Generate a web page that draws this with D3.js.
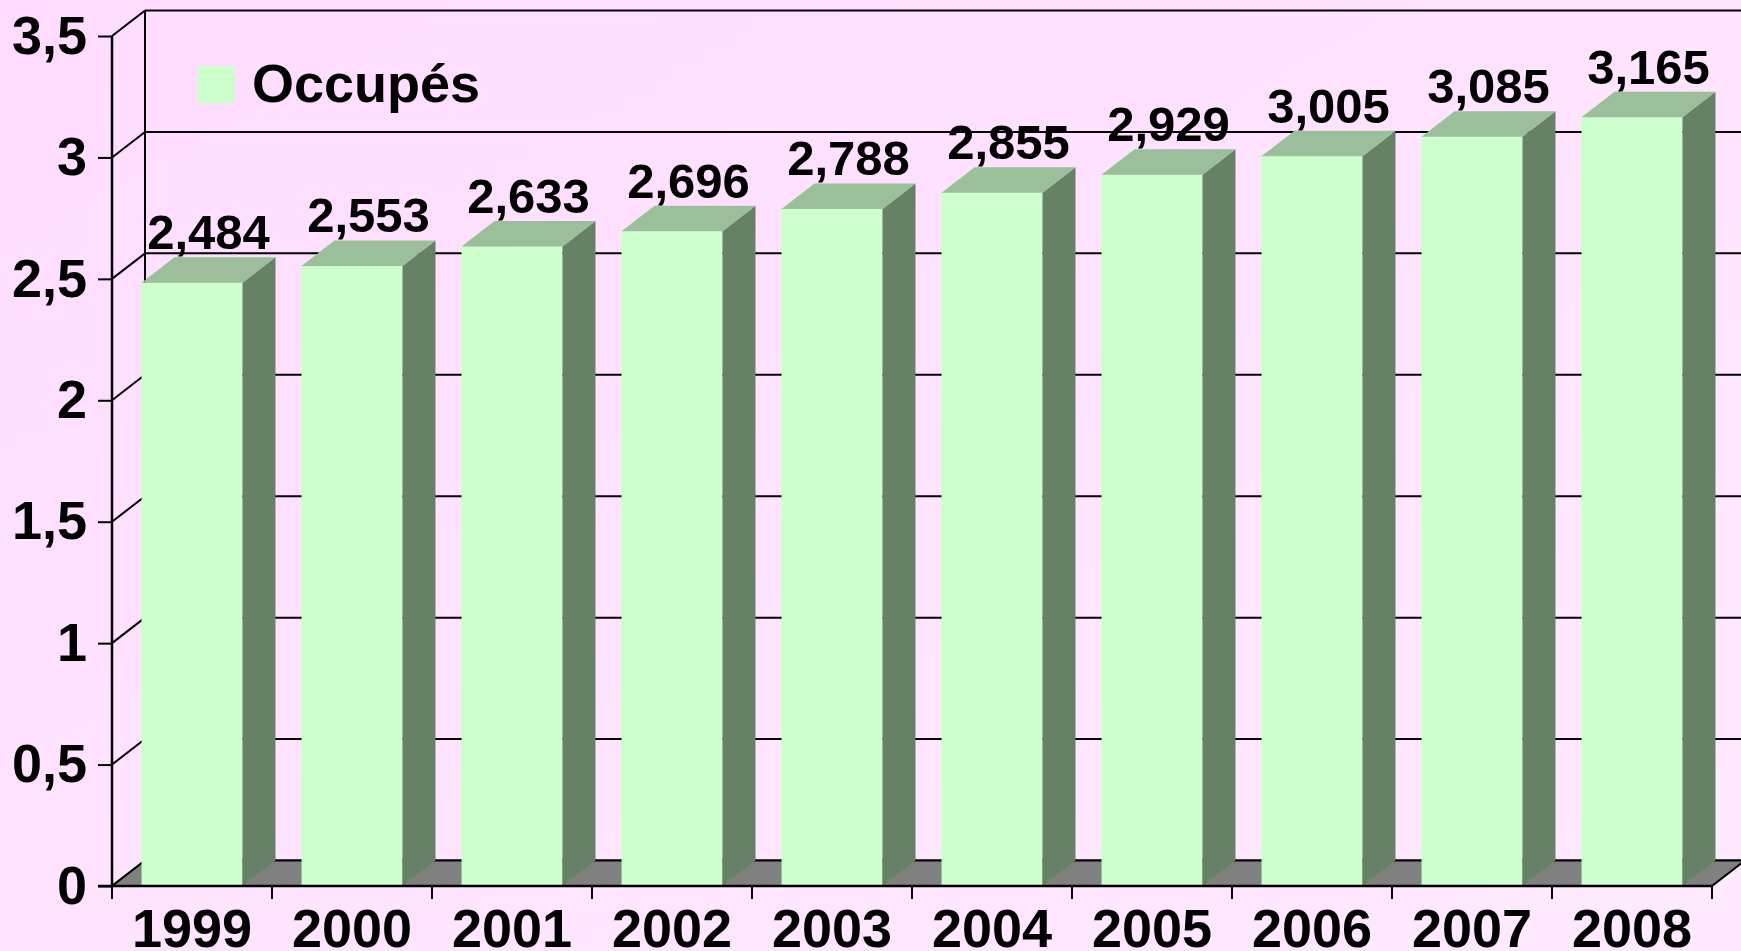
<!DOCTYPE html>
<html>
<head>
<meta charset="utf-8">
<script src="https://cdn.jsdelivr.net/npm/d3@7.9.0/dist/d3.min.js"></script>
<style>
  html, body { margin: 0; padding: 0; background: #ffe2ff; }
  svg { display: block; font-family: "Liberation Sans", Arial, sans-serif; font-weight: bold; }
</style>
</head>
<body>
<script>
// Chart data
const years = ["1999", "2000", "2001", "2002", "2003", "2004", "2005", "2006", "2007", "2008"];
const occupes = [2.484, 2.553, 2.633, 2.696, 2.788, 2.855, 2.929, 3.005, 3.085, 3.165];
const yTicks = [0, 0.5, 1, 1.5, 2, 2.5, 3, 3.5];
const seriesName = "Occupés";

const width = 1741, height = 951;
const depthX = 33, depthY = -25.5;   // 3D depth offset

const fr = d3.formatLocale({ decimal: ",", thousands: " ", grouping: [3], currency: ["", "€"] });
const fmtTick = d => fr.format(",")(d);
const fmtVal = fr.format(".3f");

const svg = d3.select("body").append("svg")
    .attr("width", width)
    .attr("height", height);

// background
const defs = svg.append("defs");
const grad = defs.append("linearGradient").attr("id", "bg")
    .attr("x1", "0").attr("y1", "0").attr("x2", "1").attr("y2", "1");
grad.append("stop").attr("offset", "0%").attr("stop-color", "#ffdcff");
grad.append("stop").attr("offset", "100%").attr("stop-color", "#ffeaff");
svg.append("rect").attr("width", width).attr("height", height).attr("fill", "url(#bg)");

// scales
const x = d3.scaleBand()
    .domain(years)
    .range([112, 1712])
    .paddingInner(0.369)
    .paddingOuter(0.1845);

const y = d3.scaleLinear()
    .domain([0, 3.5])
    .range([886, 36]);

const x0 = x.range()[0], x1 = x.range()[1];

// back wall gridlines
svg.append("g").selectAll("line")
    .data(yTicks)
    .enter().append("line")
    .attr("x1", x0 + depthX)
    .attr("x2", x1 + depthX)
    .attr("y1", d => y(d) + depthY)
    .attr("y2", d => y(d) + depthY)
    .attr("stroke", "#000")
    .attr("stroke-width", 2);

// side wall diagonals
svg.append("g").selectAll("line")
    .data(yTicks)
    .enter().append("line")
    .attr("x1", x0)
    .attr("x2", x0 + depthX)
    .attr("y1", d => y(d))
    .attr("y2", d => y(d) + depthY)
    .attr("stroke", "#000")
    .attr("stroke-width", 2);

// back wall left edge
svg.append("line")
    .attr("x1", x0 + depthX).attr("x2", x0 + depthX)
    .attr("y1", y(3.5) + depthY).attr("y2", y(0) + depthY)
    .attr("stroke", "#000").attr("stroke-width", 2);

// floor
svg.append("polygon")
    .attr("points", [
        [x0, y(0)], [x1, y(0)], [x1 + depthX, y(0) + depthY], [x0 + depthX, y(0) + depthY]
    ].map(p => p.join(",")).join(" "))
    .attr("fill", "#808080")
    .attr("stroke", "#000")
    .attr("stroke-width", 2)
    .attr("stroke-linejoin", "round");

// front y axis
const yAxis = svg.append("g")
    .attr("transform", `translate(${x0},0)`)
    .call(d3.axisLeft(y).tickValues(yTicks).tickFormat(fmtTick).tickSize(14).tickPadding(11));
yAxis.select(".domain").attr("d", `M0,${y(3.5)}V${y(0)}`).attr("stroke-width", 2.5);
yAxis.selectAll(".tick line").attr("stroke-width", 2);
yAxis.selectAll(".tick text")
    .attr("font-size", 54)
    .attr("font-family", "Liberation Sans, Arial, sans-serif")
    .attr("font-weight", "bold")
    .attr("fill", "#000");

// bars
const bars = svg.append("g").selectAll("g")
    .data(years.map((yr, i) => ({ year: yr, value: occupes[i] })))
    .enter().append("g");

const bw = x.bandwidth();

bars.append("rect")
    .attr("x", d => x(d.year))
    .attr("y", d => y(d.value))
    .attr("width", bw)
    .attr("height", d => y(0) - y(d.value))
    .attr("fill", "#ccffcc");

bars.append("polygon")
    .attr("points", d => {
        const xr = x(d.year) + bw;
        return [[xr, y(d.value)], [xr + depthX, y(d.value) + depthY],
                [xr + depthX, y(0) + depthY], [xr, y(0)]].map(p => p.join(",")).join(" ");
    })
    .attr("fill", "#678167");

bars.append("polygon")
    .attr("points", d => {
        const xl = x(d.year), xr = xl + bw, t = y(d.value);
        return [[xl, t], [xl + depthX, t + depthY], [xr + depthX, t + depthY], [xr, t]]
            .map(p => p.join(",")).join(" ");
    })
    .attr("fill", "#9abf9a");

// value labels
bars.append("text")
    .attr("x", d => x(d.year) + bw / 2 + depthX / 2)
    .attr("y", d => y(d.value) + depthY - 8)
    .attr("text-anchor", "middle")
    .attr("font-size", 49)
    .attr("fill", "#000")
    .text(d => fmtVal(d.value));

// front x axis
svg.append("line")
    .attr("x1", 98).attr("x2", x1)
    .attr("y1", y(0)).attr("y2", y(0))
    .attr("stroke", "#000").attr("stroke-width", 2.5);

svg.append("g").selectAll("line")
    .data(d3.range(years.length + 1))
    .enter().append("line")
    .attr("x1", i => x0 + i * x.step())
    .attr("x2", i => x0 + i * x.step())
    .attr("y1", y(0))
    .attr("y2", y(0) + 13)
    .attr("stroke", "#000")
    .attr("stroke-width", 2);

svg.append("g").selectAll("text")
    .data(years)
    .enter().append("text")
    .attr("x", d => x(d) + bw / 2)
    .attr("y", 947)
    .attr("text-anchor", "middle")
    .attr("font-size", 54)
    .attr("fill", "#000")
    .text(d => d);

// legend
const legend = svg.append("g");
legend.append("rect")
    .attr("x", 198).attr("y", 66)
    .attr("width", 37).attr("height", 37)
    .attr("fill", "#ccffcc");
legend.append("text")
    .attr("x", 252).attr("y", 102)
    .attr("font-size", 54)
    .attr("fill", "#000")
    .text(seriesName);
</script>
</body>
</html>
